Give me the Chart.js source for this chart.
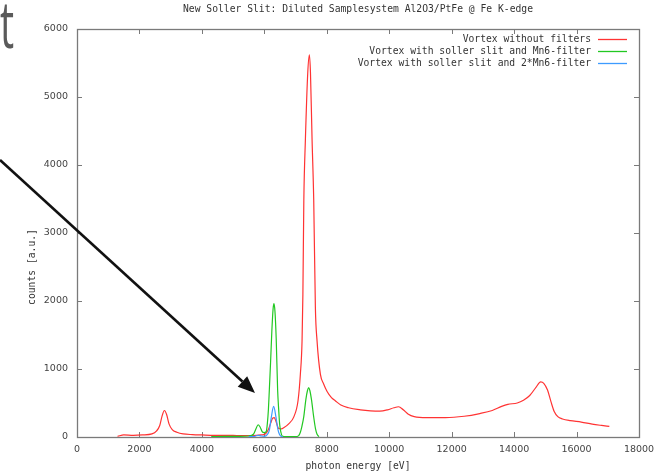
<!DOCTYPE html>
<html>
<head>
<meta charset="utf-8">
<script src="https://cdn.jsdelivr.net/npm/chart.js@4.4.1/dist/chart.umd.min.js"></script>
<style>
  html, body { margin: 0; padding: 0; background: #fff; }
  #chart { display: block; }
</style>
</head>
<body>
<canvas id="chart" width="662" height="475"></canvas>
<script>
// Values (photon energy in eV, counts in a.u.)
const titleText = "New Soller Slit: Diluted Samplesystem Al2O3/PtFe @ Fe K-edge";
const xTitle = "photon energy [eV]";
const yTitle = "counts [a.u.]";

const seriesNames = [
    "Vortex without filters",
    "Vortex with soller slit and Mn6-filter",
    "Vortex with soller slit and 2*Mn6-filter"
];
const seriesColors = ["#ff3333", "#22c822", "#3d9bff"];

const redEnergy = [1300, 1500, 1800, 2100, 2400, 2550, 2650, 2720, 2800, 2870, 2950, 3050, 3200, 3400, 3700,
    4000, 4400, 4800, 5200, 5600, 5900, 6030, 6130, 6200, 6270, 6320, 6380, 6458, 6550, 6619, 6780, 6941,
    7080, 7154, 7208, 7235, 7265, 7315, 7390, 7443, 7478, 7529, 7582, 7635, 7689, 7796, 7900, 8010, 8150,
    8280, 8450, 8700, 9080, 9400, 9700, 9950, 10150, 10300, 10450, 10600, 10800, 11200, 11800, 12400,
    12900, 13300, 13600, 13800, 14100, 14300, 14500, 14700, 14850, 14950, 15070, 15180, 15280, 15400,
    15550, 15800, 16150, 16500, 16800, 17050];
const redCounts = [10, 30, 25, 30, 45, 90, 170, 300, 390, 330, 190, 110, 70, 45, 35,
    30, 25, 25, 20, 20, 30, 45, 110, 200, 280, 285, 220, 125, 120, 135, 194, 292,
    537, 923, 1413, 2100, 3480, 4370, 5350, 5620, 5350, 4370, 3480, 1900, 1410, 920, 780, 670, 580,
    530, 470, 430, 400, 385, 380, 400, 430, 445, 400, 340, 300, 285, 285, 305,
    345, 390, 450, 480, 500, 540, 610, 730, 810, 790, 690, 520, 380, 300,
    265, 240, 220, 190, 170, 155];

const greenEnergy = [4300, 4800, 5200, 5500, 5650, 5740, 5800, 5860, 5930, 5990, 6060, 6095, 6130, 6160,
    6200, 6240, 6280, 6309, 6340, 6380, 6426, 6460, 6490, 6530, 6570, 6700, 7000, 7100, 7154, 7200, 7261,
    7330, 7380, 7421, 7460, 7510, 7582, 7640, 7689, 7750];
const greenCounts = [5, 8, 10, 15, 40, 130, 180, 150, 80, 65, 80, 190, 400, 690,
    1100, 1550, 1880, 1960, 1850, 1450, 690, 400, 190, 70, 15, 5, 5, 20, 70, 150, 292,
    550, 680, 726, 680, 550, 292, 120, 40, 5];

const blueEnergy = [5500, 5700, 5800, 5900, 6000, 6100, 6159, 6224, 6298, 6373, 6420, 6458, 6520, 6600];
const blueCounts = [5, 10, 25, 15, 10, 40, 96, 292, 449, 292, 150, 70, 15, 0];

function toPoints(xs, ys) {
    return xs.map((x, i) => ({ x: x, y: ys[i] }));
}

const tickFont = { family: "DejaVu Sans", size: 9.5 };
const monoFont = "9.7px 'DejaVu Sans Mono'";

// Frame with inward ticks on all four sides, like gnuplot draws it
const framePlugin = {
    id: "frame",
    beforeDatasetsDraw(chart) {
        const ctx = chart.ctx;
        const a = chart.chartArea;
        const xs = chart.scales.x;
        const ys = chart.scales.y;
        ctx.save();
        ctx.strokeStyle = "#7a7a7a";
        ctx.lineWidth = 1;
        ctx.beginPath();
        xs.ticks.forEach(t => {
            const px = Math.round(xs.getPixelForValue(t.value)) + 0.5;
            ctx.moveTo(px, a.bottom); ctx.lineTo(px, a.bottom - 5);
            ctx.moveTo(px, a.top); ctx.lineTo(px, a.top + 5);
        });
        ys.ticks.forEach(t => {
            const py = Math.round(ys.getPixelForValue(t.value)) + 0.5;
            ctx.moveTo(a.left, py); ctx.lineTo(a.left + 5, py);
            ctx.moveTo(a.right, py); ctx.lineTo(a.right - 5, py);
        });
        ctx.stroke();
        ctx.lineWidth = 1.3;
        ctx.strokeRect(Math.round(a.left) + 0.5, Math.round(a.top) + 0.5,
            Math.round(a.right - a.left), Math.round(a.bottom - a.top));
        ctx.restore();
    },
    afterDraw(chart) {
        const ctx = chart.ctx;
        const a = chart.chartArea;
        ctx.save();
        ctx.fillStyle = "#333";
        ctx.font = monoFont;
        // title
        ctx.textAlign = "center";
        ctx.textBaseline = "middle";
        ctx.fillText(titleText, (a.left + a.right) / 2, 9);
        // x axis title
        ctx.fillText(xTitle, (a.left + a.right) / 2, 466);
        // y axis title
        ctx.save();
        ctx.translate(32, 267);
        ctx.rotate(-Math.PI / 2);
        ctx.fillText(yTitle, 0, 0);
        ctx.restore();

        // legend, text right aligned with the line sample to its right
        ctx.textAlign = "right";
        chart.data.datasets.forEach((ds, i) => {
            const y = 39 + 12 * i;
            ctx.fillStyle = "#333";
            ctx.fillText(ds.label, 591, y);
            ctx.strokeStyle = ds.borderColor;
            ctx.lineWidth = 1.3;
            ctx.beginPath();
            ctx.moveTo(598, y + 0.5);
            ctx.lineTo(627, y + 0.5);
            ctx.stroke();
        });

        // stray letter from the slide behind the chart (tall and narrow)
        ctx.save();
        ctx.fillStyle = "#5a5a5a";
        ctx.font = "66px 'Open Sans'";
        ctx.textAlign = "left";
        ctx.textBaseline = "alphabetic";
        ctx.translate(0, 48);
        ctx.scale(0.6, 1);
        ctx.fillText("t", 0, 0);
        ctx.restore();

        // black arrow pointing at the filtered peaks
        const x0 = 0, y0 = 160, x1 = 255, y1 = 393;
        const ang = Math.atan2(y1 - y0, x1 - x0);
        const head = 17, half = 7;
        const bx = x1 - head * Math.cos(ang), by = y1 - head * Math.sin(ang);
        ctx.strokeStyle = "#111";
        ctx.lineWidth = 2.6;
        ctx.beginPath();
        ctx.moveTo(x0, y0);
        ctx.lineTo(bx, by);
        ctx.stroke();
        ctx.fillStyle = "#111";
        ctx.beginPath();
        ctx.moveTo(x1, y1);
        ctx.lineTo(bx + half * Math.sin(ang), by - half * Math.cos(ang));
        ctx.lineTo(bx - half * Math.sin(ang), by + half * Math.cos(ang));
        ctx.closePath();
        ctx.fill();
        ctx.restore();
    }
};

const chart = new Chart(document.getElementById("chart"), {
    type: "line",
    data: {
        datasets: [
            {
                label: seriesNames[0],
                data: toPoints(redEnergy, redCounts),
                borderColor: seriesColors[0],
                borderWidth: 1.2,
                pointRadius: 0,
                cubicInterpolationMode: "monotone",
                order: 3
            },
            {
                label: seriesNames[1],
                data: toPoints(greenEnergy, greenCounts),
                borderColor: seriesColors[1],
                borderWidth: 1.2,
                pointRadius: 0,
                cubicInterpolationMode: "monotone",
                order: 2
            },
            {
                label: seriesNames[2],
                data: toPoints(blueEnergy, blueCounts),
                borderColor: seriesColors[2],
                borderWidth: 1.2,
                pointRadius: 0,
                cubicInterpolationMode: "monotone",
                order: 1
            }
        ]
    },
    options: {
        responsive: false,
        animation: false,
        devicePixelRatio: 1,
        layout: { padding: { top: 29, right: 23, left: 0, bottom: 0 } },
        plugins: {
            legend: { display: false },
            tooltip: { enabled: false },
            title: { display: false }
        },
        scales: {
            x: {
                type: "linear",
                min: 0,
                max: 18000,
                grid: { display: false, drawTicks: false, tickLength: 0 },
                border: { display: false },
                ticks: {
                    stepSize: 2000,
                    maxRotation: 0,
                    autoSkip: false,
                    padding: 7,
                    color: "#444",
                    font: tickFont,
                    callback: v => String(v)
                },
                afterFit(scale) { scale.height = 38; }
            },
            y: {
                min: 0,
                max: 6000,
                grid: { display: false, drawTicks: false, tickLength: 0 },
                border: { display: false },
                ticks: {
                    stepSize: 1000,
                    padding: 9,
                    color: "#444",
                    font: tickFont,
                    callback: v => String(v)
                },
                afterFit(scale) { scale.width = 77; }
            }
        }
    },
    plugins: [framePlugin]
});
</script>
</body>
</html>
